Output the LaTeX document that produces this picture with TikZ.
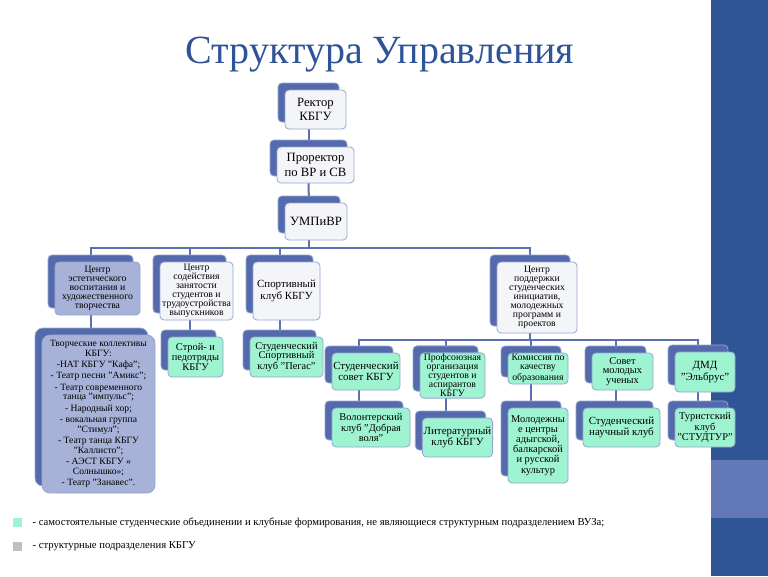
\documentclass[tikz,border=0pt]{standalone}
\usepackage{fontspec}
\setmainfont{Liberation Serif}
\usepackage{color}
\usepackage{tikz}
\usetikzlibrary{shadows,backgrounds}

\definecolor{shadowblue}{RGB}{84,106,172}
\definecolor{edgeblue}{RGB}{150,166,208}
\definecolor{neutral}{RGB}{244,245,249}
\definecolor{mint}{RGB}{158,243,208}
\definecolor{slate}{RGB}{166,178,215}
\definecolor{linecol}{RGB}{92,112,176}
\definecolor{titleblue}{RGB}{46,84,150}
\definecolor{banddark}{RGB}{47,85,151}
\definecolor{bandlight}{RGB}{99,120,182}
\definecolor{legendgrey}{RGB}{191,191,191}

\begin{document}
\begin{tikzpicture}[x=0.75pt,y=-0.75pt,
  wh/.style 2 args={minimum width=#1*0.75pt,minimum height=#2*0.75pt}]
\tikzstyle{every node}=[inner sep=1pt,align=center,font=\fontsize{7.8}{7.2}\selectfont];
\tikzstyle{box}=[draw=edgeblue,line width=0.6pt,rounded corners=3pt,
  general shadow={shadow xshift=-5.25pt,shadow yshift=5.25pt,fill=shadowblue,draw=edgeblue}];
\tikzstyle{unit}=[box,fill=neutral];
\tikzstyle{top}=[unit,font=\fontsize{9.5}{11}\selectfont];
\tikzstyle{club}=[box,fill=mint];
\tikzstyle{centre}=[box,fill=slate];
\tikzstyle{conn}=[draw=linecol,line width=1.5pt];
\tikzstyle{dense}=[font=\fontsize{7.3}{6.7}\selectfont];
\tikzstyle{twoline}=[font=\fontsize{8.2}{8.6}\selectfont];

\begin{scope}[on background layer]
\fill[white] (0,0) rectangle (768,576);
\fill[banddark] (711,0) rectangle (768,576);
\fill[bandlight] (711,460) rectangle (768,518);
\end{scope}
\useasboundingbox (0,0) rectangle (768,576);

\node[anchor=base,text=titleblue,font=\fontsize{30}{36}\selectfont] (title) at (380,63) {Структура Управления};

% top chain
\node[top,wh={61}{39}] (rector) at (315.5,109.5) {Ректор\\КБГУ};
\node[top,wh={77}{36}] (prorector) at (315.5,165) {Проректор\\по ВР и СВ};
\node[top,wh={62}{37}] (umpivr) at (316,221.5) {УМПиВР};

% centres
\node[centre,dense,wh={85}{53}] (estet) at (97.5,288.5) {Центр\\эстетического\\воспитания и\\художественного\\творчества};
\node[unit,dense,wh={73}{58}] (sodeist) at (196.5,291) {Центр\\содействия\\занятости\\студентов и\\трудоустройства\\выпускников};
\node[unit,twoline,wh={67}{58}] (sport) at (286.5,291) {Спортивный\\клуб КБГУ};
\node[unit,dense,wh={80}{71}] (podderzh) at (537,297.5) {Центр\\поддержки\\студенческих\\инициатив,\\молодежных\\программ и\\проектов};

% under centres
\node[centre,wh={113}{158},rounded corners=6pt,font=\fontsize{7.2}{7.3}\selectfont] (tvorch) at (98.5,414)
  {Творческие коллективы\\КБГУ:\\[1.2pt]-НАТ КБГУ "Кафа";\\[1.2pt]- Театр песни "Амикс";\\[1.2pt]- Театр современного\\танца "импульс";\\[1.2pt]- Народный хор;\\[1.2pt]- вокальная группа\\"Стимул";\\[1.2pt]- Театр танца КБГУ\\"Каллисто";\\[1.2pt]- АЭСТ КБГУ «\\Солнышко»;\\[1.2pt]- Театр "Занавес".};
\node[club,wh={55}{40}] (stroy) at (195.5,357) {Строй- и\\педотряды\\КБГУ};
\node[club,wh={73}{40}] (pegas) at (286.5,357) {Студенческий\\Спортивный\\клуб "Пегас"};

\node[club,twoline,wh={58}{37}] (stsovet) at (366,371.5) {Студенческий\\совет КБГУ};
\node[club,dense,wh={65}{45}] (profsoyuz) at (452.5,375.5) {Профсоюзная\\организация\\студентов и\\аспирантов\\КБГУ};
\node[club,dense,wh={60}{31}] (komissia) at (538,368.5) {Комиссия по\\качеству\\образования};
\node[club,wh={61}{37}] (sovet) at (622.5,371.5) {Совет\\молодых\\ученых};
\node[club,twoline,wh={60}{40}] (dmd) at (705,372) {ДМД\\"Эльбрус"};

\node[club,wh={78}{39}] (volonter) at (371,427.5) {Волонтерский\\клуб "Добрая\\воля"};
\node[club,twoline,wh={69}{39}] (literat) at (457.5,437.5) {Литературный\\клуб КБГУ};
\node[club,font=\fontsize{7.8}{7.6}\selectfont,wh={60}{75}] (molodezh) at (538,445.5) {Молодежны\\е центры\\адыгской,\\балкарской\\и русской\\культур};
\node[club,twoline,wh={77}{39}] (nauchn) at (621.5,427.5) {Студенческий\\научный клуб};
\node[club,wh={60}{39}] (studtur) at (705,427.5) {Туристский\\клуб\\"СТУДТУР"};

% legend
\node[fill=mint,minimum size=6.75pt,inner sep=0pt] (keyclub) at (17.5,522.5) {};
\node[fill=legendgrey,minimum size=6.75pt,inner sep=0pt] (keyunit) at (17.5,546) {};
\node[anchor=west,font=\fontsize{8}{10}\selectfont] (legclub) at (31,522.5) {- самостоятельные студенческие объединении и клубные формирования, не являющиеся структурным подразделением ВУЗа;};
\node[anchor=west,font=\fontsize{8}{10}\selectfont] (legunit) at (31,546) {- структурные подразделения КБГУ};

% connectors
\begin{scope}[on background layer]
\draw[conn] ([xshift=-5.25pt]rector.center) -- ([xshift=-5.25pt]prorector.center);
\draw[conn] ([xshift=-5.25pt]prorector.center) -- ([xshift=-5.25pt]umpivr.center);
\coordinate (bus1) at (309,248);
\draw[conn] ([xshift=-5.25pt]umpivr.center) -- (bus1);
\foreach \n in {estet,sodeist,sport,podderzh}
  \draw[conn] (bus1) -| ([xshift=-5.25pt]\n.center);
\coordinate (bus2) at (530,340);
\draw[conn] ([xshift=-5.25pt]podderzh.center) -- (bus2);
\foreach \n in {stsovet,profsoyuz,komissia,sovet,dmd}
  \draw[conn] (bus2) -| ([xshift=-5.25pt]\n.center);
\foreach \a/\b in {estet/tvorch,sodeist/stroy,sport/pegas,stsovet/volonter,
  profsoyuz/literat,komissia/molodezh,sovet/nauchn,dmd/studtur}
  \draw[conn] ([xshift=-5.25pt]\a.center) |- (\b.center);
\end{scope}
\end{tikzpicture}
\end{document}
